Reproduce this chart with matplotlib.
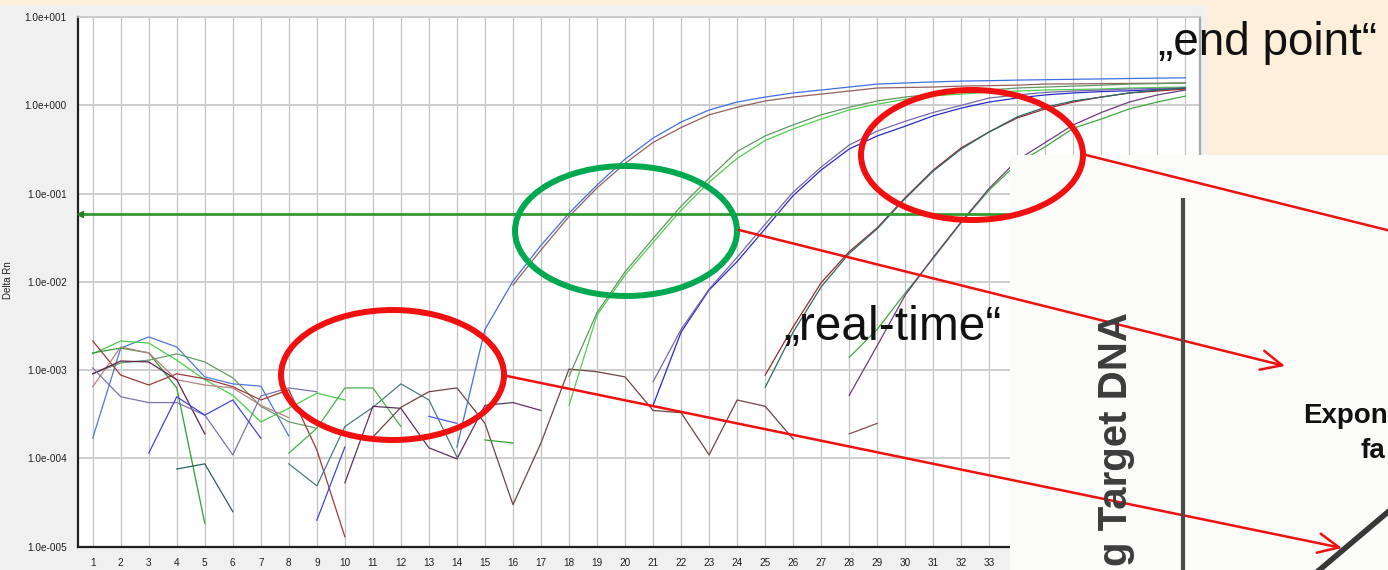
import numpy as np
import matplotlib
matplotlib.use("Agg")
import matplotlib.pyplot as plt
from matplotlib.patches import Ellipse, Rectangle, FancyArrowPatch
from matplotlib.ticker import FixedLocator, NullLocator

plt.rcParams["font.family"] = ["Liberation Sans", "DejaVu Sans"]

W, H, DPI = 1388, 570, 100

# ---------------------------------------------------------------- data
cycles = list(range(1, 41))
# cycles 34-40 sit underneath the pasted textbook sketch
cycle_labels = [str(c) if c <= 33 else "" for c in cycles]
y_ticks = [1e-5, 1e-4, 1e-3, 1e-2, 1e-1, 1e0, 1e1]
y_tick_labels = ["1.0e-005", "1.0e-004", "1.0e-003", "1.0e-002",
                 "1.0e-001", "1.0e+000", "1.0e+001"]
threshold = 0.058

# amplification curves (first cycle, Delta Rn per cycle)
blue_a_start = 14
blue_a = [1.35e-4, 2.9e-3, 0.0102, 0.026, 0.060, 0.125, 0.246, 0.425, 0.647,
          0.885, 1.09, 1.24, 1.38, 1.49, 1.61, 1.74, 1.79, 1.84, 1.88, 1.90,
          1.93, 1.95, 1.97, 1.99, 2.01, 2.03, 2.05]
brown_a_start = 16
brown_a = [0.0092, 0.023, 0.055, 0.116, 0.22, 0.38, 0.56, 0.78, 0.95, 1.12,
           1.24, 1.34, 1.45, 1.57, 1.59, 1.61, 1.65, 1.67, 1.69, 1.74, 1.75,
           1.76, 1.77, 1.78, 1.79]
green_b1_start = 18
green_b1 = [4.0e-4, 4.2e-3, 0.012, 0.028, 0.065, 0.135, 0.25, 0.40, 0.54, 0.70,
            0.885, 1.03, 1.17, 1.28, 1.34, 1.41, 1.45, 1.49, 1.51, 1.53, 1.57,
            1.59, 1.61]
green_b2_start = 18
green_b2 = [8.5e-4, 4.5e-3, 0.013, 0.031, 0.072, 0.15, 0.30, 0.45, 0.60, 0.78,
            0.95, 1.12, 1.24, 1.34, 1.41, 1.49, 1.57, 1.61, 1.65, 1.69, 1.74,
            1.76, 1.79]
blue_c_start = 21
blue_c = [4.0e-4, 2.7e-3, 8.1e-3, 0.017, 0.040, 0.095, 0.185, 0.32, 0.45, 0.58,
          0.76, 0.93, 1.09, 1.21, 1.31, 1.38, 1.43, 1.46, 1.51, 1.57]
purple_c_start = 21
purple_c = [7.4e-4, 2.9e-3, 8.3e-3, 0.019, 0.045, 0.104, 0.20, 0.355, 0.51,
            0.66, 0.83, 1.00, 1.21, 1.31, 1.40, 1.45, 1.49, 1.53, 1.55, 1.57]
brown_d_start = 25
brown_d = [8.8e-4, 3.1e-3, 9.8e-3, 0.022, 0.041, 0.090, 0.185, 0.33, 0.50,
           0.72, 0.91, 1.09, 1.24, 1.38, 1.45, 1.53]
teal_d_start = 25
teal_d = [6.4e-4, 2.7e-3, 8.8e-3, 0.021, 0.040, 0.088, 0.18, 0.32, 0.50, 0.74,
          0.95, 1.12, 1.24, 1.38, 1.49, 1.57]
green_e_start = 28
green_e = [1.4e-3, 2.9e-3, 7.5e-3, 0.0185, 0.047, 0.11, 0.22, 0.34, 0.55,
           0.70, 0.91, 1.09, 1.27]
purple_e_start = 28
purple_e = [5.2e-4, 1.9e-3, 7.1e-3, 0.019, 0.048, 0.115, 0.24, 0.38, 0.60,
            0.83, 1.09, 1.31, 1.49]

# baseline noise of the individual wells (first cycle, Delta Rn per cycle)
base_blue_start = 1
base_blue = [1.7e-4, 1.78e-3, 2.38e-3, 1.83e-3, 8.4e-4, 7.0e-4, 6.6e-4, 1.8e-4]
base_lgreen_start = 1
base_lgreen = [1.53e-3, 2.14e-3, 2.03e-3, 1.3e-3, 7.8e-4, 5.2e-4, 2.6e-4,
               3.7e-4, 5.5e-4, 4.6e-4]
base_green_start = 1
base_green = [1.57e-3, 1.78e-3, 1.57e-3, 6.3e-4, 1.85e-5]
base_ggreen_start = 1
base_ggreen = [9.1e-4, 1.21e-3, 1.3e-3, 1.53e-3, 1.24e-3, 8.2e-4, 3.9e-4,
               2.6e-4, 2.2e-4]
base_red_start = 1
base_red = [2.14e-3, 8.8e-4, 6.8e-4, 9.1e-4, 8.0e-4, 6.5e-4, 4.6e-4, 6.0e-4,
            1.25e-4, 1.3e-5]
base_pink_start = 1
base_pink = [6.5e-4, 1.83e-3, 1.57e-3, 7.8e-4, 6.8e-4, 6.3e-4, 4.0e-4, 2.9e-4]
base_dpurple_start = 1
base_dpurple = [9.1e-4, 1.27e-3, 1.24e-3, 7.8e-4, 1.9e-4]
base_gpurple_start = 1
base_gpurple = [1.06e-3, 5.0e-4, 4.3e-4, 4.3e-4, 3.1e-4, 1.1e-4, 5.1e-4,
                6.3e-4, 5.7e-4]
base_violet_start = 3
base_violet = [1.15e-4, 5.0e-4, 3.1e-4, 4.6e-4, 1.7e-4]
base_dteal_start = 4
base_dteal = [7.6e-5, 8.7e-5, 2.5e-5]
base_teal_start = 8
base_teal = [8.7e-5, 4.9e-5, 2.3e-4, 3.8e-4, 7.0e-4, 4.6e-4, 1.04e-4]
base_mgreen_start = 8
base_mgreen = [1.15e-4, 2.2e-4, 6.3e-4, 6.3e-4, 2.3e-4]
base_blue2_start = 9
base_blue2 = [2.0e-5, 1.35e-4]
base_purple_start = 10
base_purple = [5.3e-5, 3.9e-4, 3.7e-4, 1.32e-4, 9.9e-5, 4.0e-4, 4.3e-4, 3.5e-4]
ntc_brown_start = 11
ntc_brown = [1.75e-4, 3.8e-4, 5.7e-4, 6.3e-4, 2.5e-4, 3.0e-5, 1.5e-4, 1.03e-3,
             9.6e-4, 8.4e-4, 3.5e-4, 3.3e-4, 1.1e-4, 4.6e-4, 3.9e-4, 1.66e-4]
base_blue3_start = 13
base_blue3 = [3.0e-4, 2.5e-4]
base_green2_start = 15
base_green2 = [1.62e-4, 1.5e-4]
base_brown2_start = 28
base_brown2 = [1.9e-4, 2.5e-4]

traces = [
    (base_blue_start, base_blue, "#4a7ae0"),
    (base_lgreen_start, base_lgreen, "#48d048"),
    (base_green_start, base_green, "#2f9f2f"),
    (base_ggreen_start, base_ggreen, "#6a9a6a"),
    (base_red_start, base_red, "#a03a3a"),
    (base_pink_start, base_pink, "#b88080"),
    (base_dpurple_start, base_dpurple, "#602050"),
    (base_gpurple_start, base_gpurple, "#7a74a8"),
    (base_violet_start, base_violet, "#4545d8"),
    (base_dteal_start, base_dteal, "#2a6060"),
    (base_teal_start, base_teal, "#4a7c7c"),
    (base_mgreen_start, base_mgreen, "#48b048"),
    (base_blue2_start, base_blue2, "#3a48e0"),
    (base_purple_start, base_purple, "#603060"),
    (ntc_brown_start, ntc_brown, "#6e4444"),
    (base_blue3_start, base_blue3, "#4a58e0"),
    (base_green2_start, base_green2, "#2f9f2f"),
    (base_brown2_start, base_brown2, "#805050"),
    (blue_a_start, blue_a, "#4070e0"),
    (brown_a_start, brown_a, "#946060"),
    (green_b1_start, green_b1, "#50d050"),
    (green_b2_start, green_b2, "#609860"),
    (blue_c_start, blue_c, "#2a2ac8"),
    (purple_c_start, purple_c, "#7868a8"),
    (brown_d_start, brown_d, "#a02828"),
    (teal_d_start, teal_d, "#2a6a6a"),
    (green_e_start, green_e, "#40a840"),
    (purple_e_start, purple_e, "#703a80"),
]

# ---------------------------------------------------------------- figure
fig = plt.figure(figsize=(W / DPI, H / DPI), dpi=DPI)
fig.patch.set_facecolor("#fdefd9")

# software window background
bg = fig.add_axes([0, 0, 1, 1], zorder=0)
bg.set_xlim(0, W)
bg.set_ylim(H, 0)
bg.axis("off")
bg.add_patch(Rectangle((0, 5), 1207, H - 5, fc="#f0f0f0", ec="none"))
bg.text(8, 280, "Delta Rn", rotation=90, ha="center", va="center",
        fontsize=7, color="#202020")

# amplification plot
ax = fig.add_axes([78 / W, (H - 546.8) / H, (1200 - 78) / W, (546.8 - 17) / H],
                  zorder=1)
ax.set_facecolor("white")
ax.set_yscale("log")
ax.set_ylim(1e-5, 1e1)
ax.set_xlim(0.475, 40.52)
ax.xaxis.set_major_locator(FixedLocator(cycles))
ax.set_xticklabels(cycle_labels)
ax.yaxis.set_major_locator(FixedLocator(y_ticks))
ax.yaxis.set_minor_locator(NullLocator())
ax.set_yticklabels(y_tick_labels)
ax.tick_params(length=0, labelsize=7.2, colors="#202020", pad=8)
ax.grid(axis="x", color="#c2c2c2", lw=0.9)
ax.grid(axis="y", color="#cdcdcd", lw=1.4)
ax.set_axisbelow(True)
for side, col, lw in (("left", "#202020", 1.6), ("bottom", "#202020", 1.6),
                      ("top", "#c8c8c8", 1.2), ("right", "#a8a8a8", 1.6)):
    ax.spines[side].set_color(col)
    ax.spines[side].set_linewidth(lw)

for start, vals, col in traces:
    x = np.arange(start, start + len(vals))
    ax.plot(x, vals, color=col, lw=0.9, zorder=2)

ax.axhline(threshold, color="#339933", lw=2.0, zorder=3)
ax.plot([0.53], [threshold], marker="<", ms=4, color="#2a7a2a", zorder=4,
        clip_on=False)

# slide annotations on top
ov = fig.add_axes([0, 0, 1, 1], zorder=2)
ov.set_xlim(0, W)
ov.set_ylim(H, 0)
ov.axis("off")
ov.patch.set_alpha(0)

# inset textbook sketch
ov.add_patch(Rectangle((1010, 155), W - 1010, H - 155, fc="#fbfbf9", ec="none"))
ov.plot([1183, 1183], [198, H + 5], color="#4a4a4a", lw=3, solid_capstyle="butt")
ov.plot([1317, 1395], [H + 2, 506], color="#383838", lw=4)
ov.text(1116, 312, "g Target DNA", rotation=90, ha="center", va="top",
        fontsize=29, weight="bold", color="#3c3c3c")
ov.text(1303, 423, "Expon", fontsize=20, weight="bold", color="#111111",
        ha="left", va="baseline")
ov.text(1361, 458, "fa", fontsize=20, weight="bold", color="#111111",
        ha="left", va="baseline")

# highlight rings
ov.add_patch(Ellipse((392.5, 375), 223, 130, fill=False, ec="#f01010", lw=4.3))
ov.add_patch(Ellipse((626, 231), 222, 130, fill=False, ec="#00a850", lw=4.3))
ov.add_patch(Ellipse((972, 155), 222, 130, fill=False, ec="#f01010", lw=4.3))

arrow_style = "->,head_length=0.75,head_width=0.35"
for (x0, y0), (x1, y1) in (((507, 376), (1342, 548)),
                           ((739, 230), (1285, 366))):
    ov.add_patch(FancyArrowPatch((x0, y0), (x1, y1), arrowstyle=arrow_style,
                                 mutation_scale=20, color="#f01010", lw=1.8,
                                 shrinkA=0, shrinkB=0))
ov.plot([1086, 1395], [155, 232], color="#f01010", lw=1.8)

ov.text(783, 340, "\u201ereal-time\u201c", fontsize=34.5, color="#111111",
        ha="left", va="baseline")
ov.text(1158, 55, "\u201eend point\u201c", fontsize=33, color="#111111",
        ha="left", va="baseline")

fig.savefig("out.png", dpi=DPI)
